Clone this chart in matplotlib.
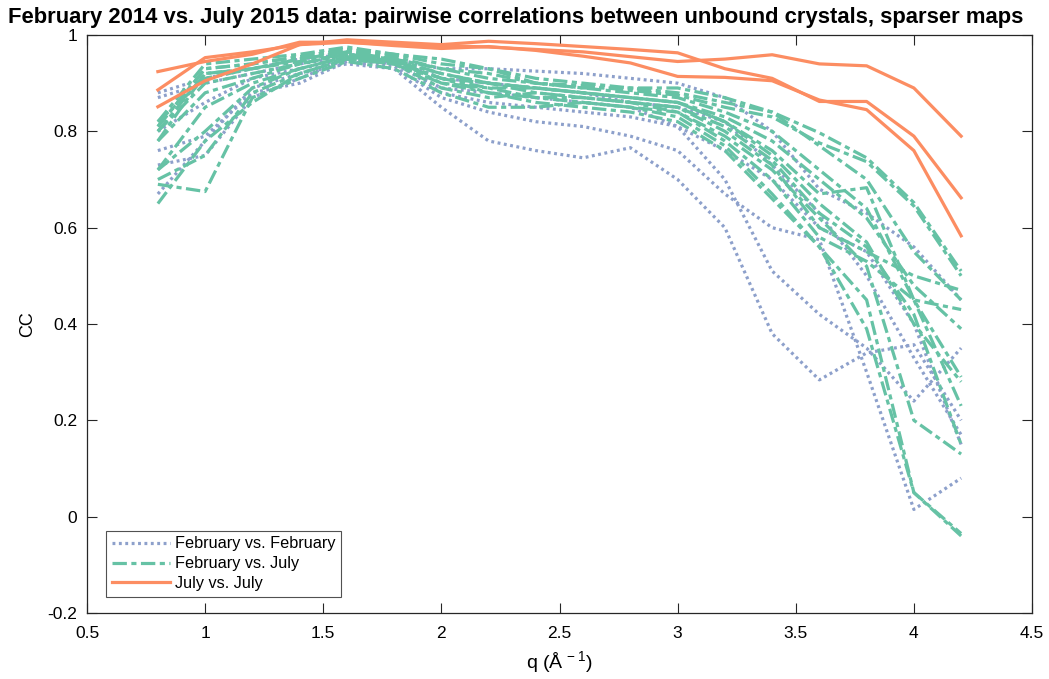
import matplotlib
matplotlib.use("Agg")
import matplotlib.pyplot as plt
import numpy as np

plt.rcParams['font.family'] = ['Liberation Sans', 'DejaVu Sans']
plt.rcParams['mathtext.default'] = 'regular'

q = [0.8, 1.0, 1.2, 1.4, 1.6, 1.8, 2.0, 2.2, 2.4, 2.6, 2.8, 3.0, 3.2, 3.4, 3.6, 3.8, 4.0, 4.2]

feb_feb = [
    [0.87, 0.90, 0.92, 0.94, 0.955, 0.95, 0.93, 0.93, 0.925, 0.92, 0.91, 0.90, 0.87, 0.80, 0.68, 0.63, 0.56, 0.45],
    [0.80, 0.86, 0.91, 0.93, 0.95, 0.945, 0.88, 0.86, 0.85, 0.84, 0.83, 0.81, 0.76, 0.70, 0.60, 0.55, 0.40, 0.15],
    [0.67, 0.78, 0.89, 0.92, 0.94, 0.93, 0.85, 0.78, 0.76, 0.745, 0.766, 0.70, 0.60, 0.38, 0.284, 0.34, 0.357, 0.20],
    [0.76, 0.79, 0.88, 0.90, 0.945, 0.935, 0.87, 0.84, 0.82, 0.81, 0.79, 0.76, 0.67, 0.60, 0.575, 0.30, 0.015, 0.08],
    [0.73, 0.75, 0.87, 0.91, 0.95, 0.94, 0.89, 0.88, 0.87, 0.86, 0.85, 0.81, 0.70, 0.51, 0.42, 0.35, 0.24, 0.35],
    [0.88, 0.91, 0.93, 0.95, 0.96, 0.95, 0.91, 0.90, 0.89, 0.88, 0.86, 0.85, 0.82, 0.73, 0.63, 0.50, 0.33, 0.17],
]

feb_jul = [
    [0.82, 0.94, 0.95, 0.96, 0.975, 0.96, 0.95, 0.93, 0.90, 0.89, 0.89, 0.88, 0.86, 0.84, 0.797, 0.745, 0.652, 0.51],
    [0.81, 0.93, 0.94, 0.955, 0.97, 0.955, 0.93, 0.92, 0.90, 0.895, 0.885, 0.875, 0.85, 0.83, 0.776, 0.737, 0.645, 0.50],
    [0.80, 0.92, 0.93, 0.95, 0.965, 0.95, 0.90, 0.89, 0.89, 0.88, 0.87, 0.86, 0.82, 0.76, 0.67, 0.683, 0.45, 0.29],
    [0.78, 0.88, 0.91, 0.94, 0.96, 0.94, 0.89, 0.87, 0.88, 0.87, 0.86, 0.85, 0.80, 0.73, 0.60, 0.55, 0.50, 0.47],
    [0.72, 0.85, 0.90, 0.93, 0.955, 0.945, 0.92, 0.90, 0.88, 0.87, 0.86, 0.84, 0.78, 0.70, 0.58, 0.53, 0.45, 0.43],
    [0.70, 0.75, 0.88, 0.92, 0.95, 0.94, 0.90, 0.88, 0.86, 0.85, 0.84, 0.82, 0.76, 0.66, 0.56, 0.39, 0.05, -0.035],
    [0.69, 0.675, 0.87, 0.91, 0.945, 0.93, 0.88, 0.85, 0.85, 0.86, 0.85, 0.83, 0.77, 0.67, 0.56, 0.45, 0.05, -0.04],
    [0.65, 0.78, 0.86, 0.92, 0.95, 0.94, 0.91, 0.89, 0.87, 0.86, 0.85, 0.84, 0.79, 0.72, 0.62, 0.52, 0.20, 0.13],
    [0.82, 0.91, 0.93, 0.95, 0.965, 0.95, 0.92, 0.90, 0.89, 0.88, 0.87, 0.86, 0.83, 0.78, 0.70, 0.62, 0.48, 0.39],
    [0.80, 0.90, 0.92, 0.94, 0.96, 0.95, 0.93, 0.91, 0.90, 0.89, 0.88, 0.87, 0.84, 0.80, 0.72, 0.64, 0.45, 0.23],
    [0.78, 0.92, 0.93, 0.945, 0.96, 0.945, 0.91, 0.90, 0.89, 0.88, 0.87, 0.86, 0.82, 0.75, 0.65, 0.57, 0.40, 0.28],
    [0.81, 0.93, 0.94, 0.955, 0.97, 0.96, 0.94, 0.93, 0.91, 0.90, 0.89, 0.89, 0.87, 0.84, 0.77, 0.70, 0.55, 0.45],
    [0.72, 0.80, 0.89, 0.93, 0.955, 0.945, 0.91, 0.88, 0.87, 0.87, 0.86, 0.85, 0.81, 0.74, 0.63, 0.56, 0.42, 0.15],
]

jul_jul = [
    [0.924, 0.945, 0.96, 0.985, 0.985, 0.98, 0.978, 0.975, 0.97, 0.965, 0.955, 0.945, 0.95, 0.959, 0.94, 0.936, 0.89, 0.79],
    [0.886, 0.953, 0.965, 0.98, 0.99, 0.985, 0.98, 0.987, 0.982, 0.976, 0.97, 0.963, 0.93, 0.91, 0.862, 0.862, 0.79, 0.662],
    [0.851, 0.905, 0.94, 0.98, 0.985, 0.978, 0.972, 0.976, 0.968, 0.956, 0.942, 0.914, 0.912, 0.905, 0.865, 0.845, 0.76, 0.583],
]

labels = ["February vs. February", "February vs. July", "July vs. July"]
c_ff, c_fj, c_jj = "#8da0cb", "#66c2a5", "#fc8d62"

fig = plt.figure(figsize=(10.49, 6.79), dpi=100)
ax = fig.add_axes([87/1049, 1-613/679, (1032-87)/1049, (613-35)/679])

lw = 2.3
h1 = h2 = h3 = None
for ys in feb_feb:
    h1, = ax.plot(q, ys, color=c_ff, lw=lw, linestyle=(0, (0.9, 1.1)))
for ys in feb_jul:
    h2, = ax.plot(q, ys, color=c_fj, lw=lw, linestyle=(0, (4.5, 1.4, 1.6, 1.4)))
for ys in jul_jul:
    h3, = ax.plot(q, ys, color=c_jj, lw=lw, linestyle='-')

ax.set_xlim(0.5, 4.5)
ax.set_ylim(-0.2, 1.0)
xt = np.arange(0.5, 4.51, 0.5)
yt = np.arange(-0.2, 1.01, 0.2)
ax.set_xticks(xt)
ax.set_xticklabels(["0.5", "1", "1.5", "2", "2.5", "3", "3.5", "4", "4.5"])
ax.set_yticks(yt)
ax.set_yticklabels(["-0.2", "0", "0.2", "0.4", "0.6", "0.8", "1"])
ax.tick_params(direction='in', length=7, width=0.8, top=True, right=True,
               labelsize=12.5, colors='#262626', labelcolor='black')
ax.tick_params(axis='x', pad=9)
ax.tick_params(axis='y', pad=7)
for s in ax.spines.values():
    s.set_linewidth(0.9)
    s.set_color('#262626')

ax.set_xlabel(r"q (Å$^{\,-1}$)", fontsize=14, labelpad=6)
ax.set_ylabel("CC", fontsize=13, labelpad=8)

fig.text(8/1049, 1-23/679,
         "February 2014 vs. July 2015 data: pairwise correlations between unbound crystals, sparser maps",
         fontsize=15.8, fontweight='bold', ha='left', va='baseline')

leg = ax.legend([h1, h2, h3], labels, loc='lower left', bbox_to_anchor=(0.02, 0.028),
                fontsize=11.7, frameon=True, fancybox=False, handlelength=3.6,
                borderpad=0.35, labelspacing=0.3, handletextpad=0.3, borderaxespad=0)
leg.get_frame().set_edgecolor('#262626')
leg.get_frame().set_linewidth(0.8)

fig.savefig("out.png", dpi=100)
